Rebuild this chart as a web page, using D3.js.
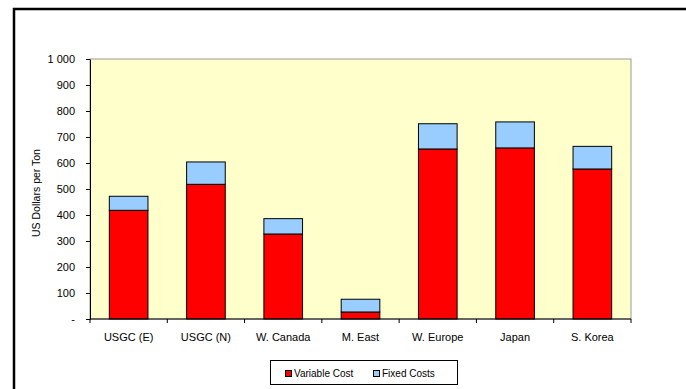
<!DOCTYPE html>
<html>
<head>
<meta charset="utf-8">
<script src="https://cdn.jsdelivr.net/npm/d3@7"></script>
<style>
  body { margin: 0; background: #fff; }
  text { font-family: "Liberation Sans", Arial, sans-serif; fill: #000; }
</style>
</head>
<body>
<div id="chart"></div>
<script>
// Dados

let categories = ['USGC (E)', 'USGC (N)', 'W. Canada', 'M. East', 'W. Europe', 'Japan', 'S. Korea'];
let variable_cost = [418, 518, 327, 27, 654, 658, 577];
let fixed_costs = [54, 86, 59, 49, 97, 100, 87];
let y_ticks = [0, 100, 200, 300, 400, 500, 600, 700, 800, 900, 1000];
let y_tick_labels = ['-', '100', '200', '300', '400', '500', '600', '700', '800', '900', '1 000'];
let series_names = ['Variable Cost', 'Fixed Costs'];
let series_colors = ['#FF0000', '#99CCFF'];

// Canvas

let width = 686;
let height = 389;
let plot = {left: 90, right: 631, top: 59, bottom: 319};

let svg = d3.select('#chart')
    .append('svg')
    .attr('width', width)
    .attr('height', height);

// moldura externa (cortada à direita e embaixo)
svg.append('rect')
    .attr('x', 14).attr('y', 9)
    .attr('width', 720).attr('height', 420)
    .attr('fill', 'none')
    .attr('stroke', '#000')
    .attr('stroke-width', 2.5);

// Escalas

let x = d3.scaleBand()
    .domain(categories)
    .range([plot.left, plot.right])
    .paddingInner(0.5)
    .paddingOuter(0.25);

let y = d3.scaleLinear()
    .domain([0, 1000])
    .range([plot.bottom, plot.top]);

// fundo da área do gráfico
svg.append('rect')
    .attr('x', plot.left).attr('y', plot.top)
    .attr('width', plot.right - plot.left)
    .attr('height', plot.bottom - plot.top)
    .attr('fill', '#FFFFCC')
    .attr('stroke', '#999')
    .attr('stroke-width', 1);

// Barras empilhadas

let rows = categories.map((c, i) => ({cat: c, v: variable_cost[i], f: fixed_costs[i]}));
let stack = d3.stack().keys(['v', 'f'])(rows);

svg.append('g').selectAll('g')
    .data(stack)
    .enter()
    .append('g')
    .attr('fill', (d, i) => series_colors[i])
    .selectAll('rect')
    .data(d => d)
    .enter()
    .append('rect')
    .attr('x', d => x(d.data.cat))
    .attr('y', d => y(d[1]))
    .attr('width', x.bandwidth())
    .attr('height', d => y(d[0]) - y(d[1]))
    .attr('stroke', '#000')
    .attr('stroke-width', 1);

// Eixos

let y_axis = svg.append('g')
    .attr('transform', `translate(${plot.left},0)`)
    .call(d3.axisLeft(y)
        .tickValues(y_ticks)
        .tickFormat((d, i) => y_tick_labels[i])
        .tickSize(4)
        .tickPadding(11)
        .tickSizeOuter(0));
y_axis.selectAll('text').attr('font-size', 11).style('font-family', '"Liberation Sans", Arial, sans-serif');
y_axis.selectAll('line, path').attr('stroke', '#000');

let x_edges = d3.range(categories.length + 1).map(i => plot.left + i * x.step());
let x_axis = svg.append('g');
x_axis.append('line')
    .attr('x1', plot.left).attr('x2', plot.right)
    .attr('y1', plot.bottom).attr('y2', plot.bottom)
    .attr('stroke', '#000');
x_axis.selectAll('.tk')
    .data(x_edges)
    .enter()
    .append('line')
    .attr('x1', d => d).attr('x2', d => d)
    .attr('y1', plot.bottom).attr('y2', plot.bottom + 4)
    .attr('stroke', '#000');
x_axis.selectAll('text')
    .data(categories)
    .enter()
    .append('text')
    .attr('x', d => x(d) + x.bandwidth() / 2)
    .attr('y', 341)
    .attr('text-anchor', 'middle')
    .attr('font-size', 11)
    .text(d => d);

// Título do eixo y

svg.append('text')
    .attr('transform', `translate(40,${(plot.top + plot.bottom) / 2 + 4}) rotate(-90)`)
    .attr('text-anchor', 'middle')
    .attr('font-size', 10.5)
    .text('US Dollars per Ton');

// Legenda

let legend = svg.append('g');
legend.append('rect')
    .attr('x', 270.5).attr('y', 360.5)
    .attr('width', 187).attr('height', 24)
    .attr('fill', '#fff')
    .attr('stroke', '#000');

let legend_x = [285, 373];
series_names.forEach((name, i) => {
    legend.append('rect')
        .attr('x', legend_x[i] + 0.5).attr('y', 370.5)
        .attr('width', 6).attr('height', 6)
        .attr('fill', series_colors[i])
        .attr('stroke', '#000');
    legend.append('text')
        .attr('x', legend_x[i] + 9)
        .attr('y', 377)
        .attr('font-size', 10)
        .text(name);
});
</script>
</body>
</html>
